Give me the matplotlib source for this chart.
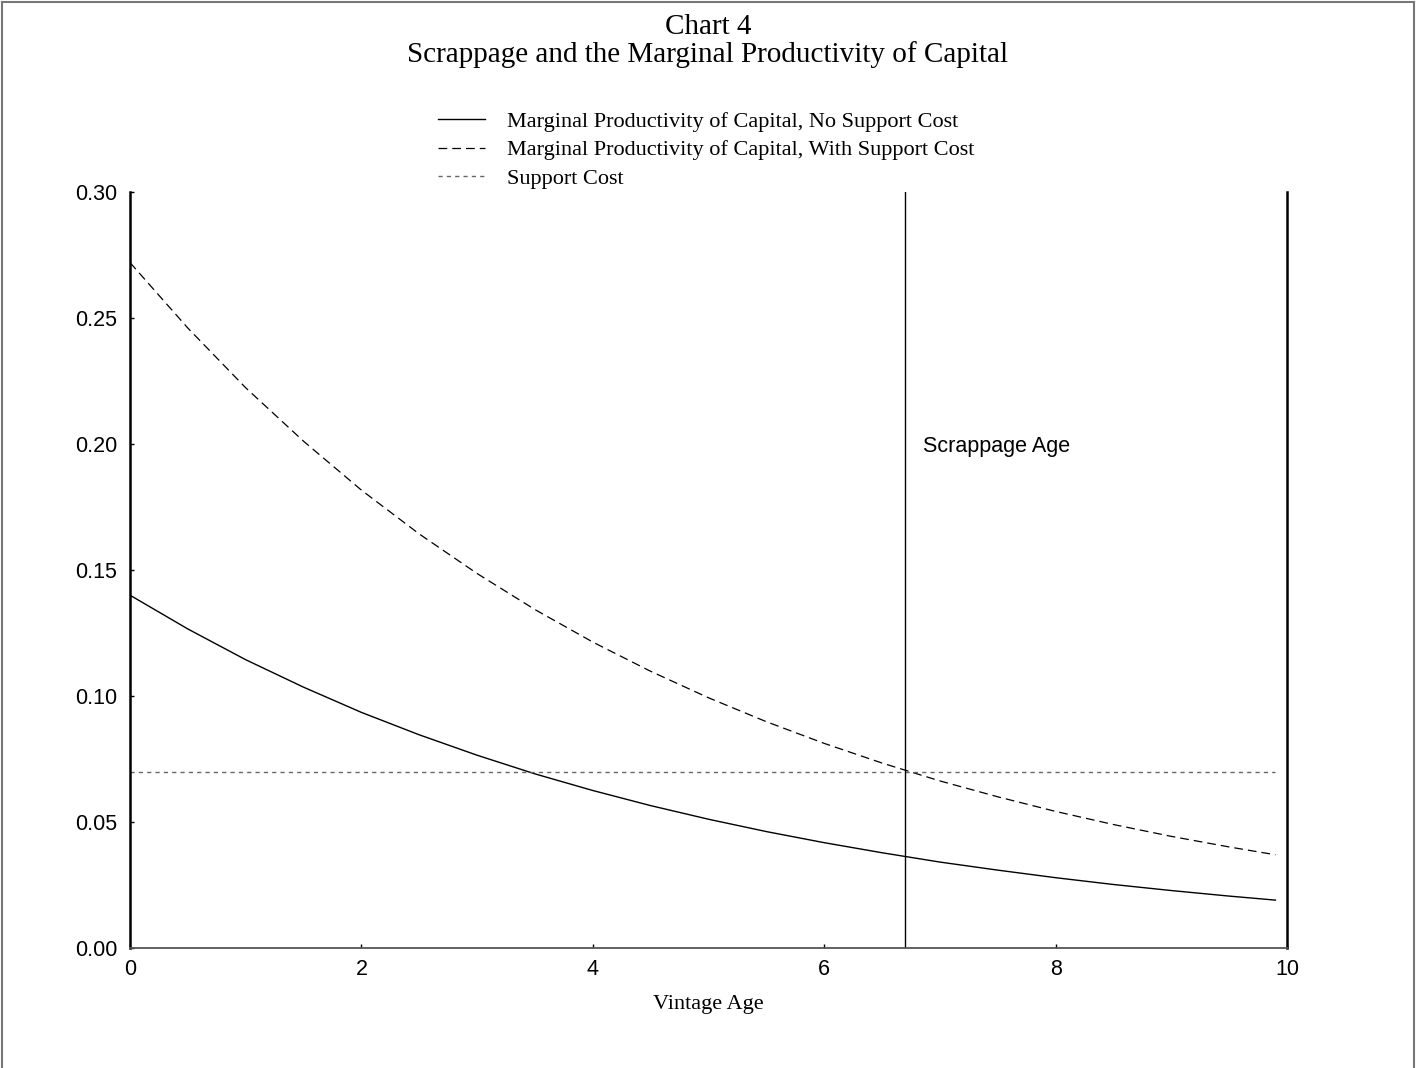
import matplotlib.pyplot as plt
from matplotlib.lines import Line2D

# vintage age grid and curves
age = [0.0, 0.5, 1.0, 1.5, 2.0, 2.5, 3.0, 3.5, 4.0, 4.5, 5.0,
       5.5, 6.0, 6.5, 7.0, 7.5, 8.0, 8.5, 9.0, 9.5, 9.9]
mpk_no_support = [0.140, 0.1266, 0.1144, 0.1035, 0.0935, 0.0846, 0.0765,
                  0.0691, 0.0625, 0.0565, 0.0511, 0.0462, 0.0418, 0.0378,
                  0.0341, 0.0309, 0.0279, 0.0252, 0.0228, 0.0206, 0.0190]
mpk_with_support = [0.272, 0.246, 0.2223, 0.2011, 0.1817, 0.1643, 0.1486,
                    0.1343, 0.1214, 0.1098, 0.0993, 0.0898, 0.0812, 0.0734,
                    0.0663, 0.0600, 0.0542, 0.0490, 0.0443, 0.0401, 0.0370]
support_cost = 0.07
scrappage_age = 6.7

x_ticks = [0, 2, 4, 6, 8, 10]
y_ticks = [0.00, 0.05, 0.10, 0.15, 0.20, 0.25, 0.30]

serif = 'Liberation Serif'
sans = 'Liberation Sans'

fig = plt.figure(figsize=(14.16, 10.68), dpi=100)
ax = fig.add_axes([130 / 1416, 120 / 1068, 1157 / 1416, 756 / 1068])

l1, = ax.plot(age, mpk_no_support, color='black', lw=1.0)
l2, = ax.plot(age, mpk_with_support, color='black', lw=0.9, dashes=(7, 4))
l3, = ax.plot([age[0], age[-1]], [support_cost, support_cost],
              color='#666666', lw=1.0, dashes=(3, 3))
ax.axvline(scrappage_age, color='black', lw=1.0)
ax.text(scrappage_age + 0.15, 0.199, 'Scrappage Age', fontsize=15.5,
        family=sans, va='center', ha='left')

ax.set_xlim(0, 10)
ax.set_ylim(0, 0.30)
ax.set_xticks(x_ticks)
ax.set_xticklabels([str(t) for t in x_ticks])
ax.set_yticks(y_ticks)
ax.set_yticklabels([f'{t:.2f}' for t in y_ticks])
ax.tick_params(axis='both', direction='in', length=3, width=1, labelsize=15.5)
ax.tick_params(axis='x', pad=8)
ax.tick_params(axis='y', pad=9)
for lab in ax.get_xticklabels() + ax.get_yticklabels():
    lab.set_family(sans)

ax.spines['top'].set_visible(False)
ax.spines['left'].set_linewidth(1.8)
ax.spines['right'].set_linewidth(1.8)
ax.spines['bottom'].set_linewidth(1.3)
ax.spines['bottom'].set_color('#555555')

ax.set_xlabel('Vintage Age', family=serif, fontsize=16, labelpad=11)

fig.text(0.5, 1 - 27 / 1068, 'Chart 4', family=serif, fontsize=21,
         ha='center', va='center')
fig.text(0.5, 1 - 55 / 1068, 'Scrappage and the Marginal Productivity of Capital',
         family=serif, fontsize=21, ha='center', va='center')

fig.legend([l1, l2, l3],
           ['Marginal Productivity of Capital, No Support Cost',
            'Marginal Productivity of Capital, With Support Cost',
            'Support Cost'],
           loc='upper left', bbox_to_anchor=(438 / 1416, 1 - 111 / 1068),
           frameon=False, prop={'family': serif, 'size': 16},
           handlelength=2.1, handletextpad=1.0, labelspacing=0.37,
           borderpad=0, borderaxespad=0)

# page frame on left, top and right
frame = dict(color='#777777', lw=1.5, transform=fig.transFigure)
fig.add_artist(Line2D([2 / 1416, 2 / 1416], [0, 1 - 2 / 1068], **frame))
fig.add_artist(Line2D([2 / 1416, 1 - 2 / 1416], [1 - 2 / 1068, 1 - 2 / 1068], **frame))
fig.add_artist(Line2D([1 - 2 / 1416, 1 - 2 / 1416], [0, 1 - 2 / 1068], **frame))

fig.savefig('out.png', dpi=100)
